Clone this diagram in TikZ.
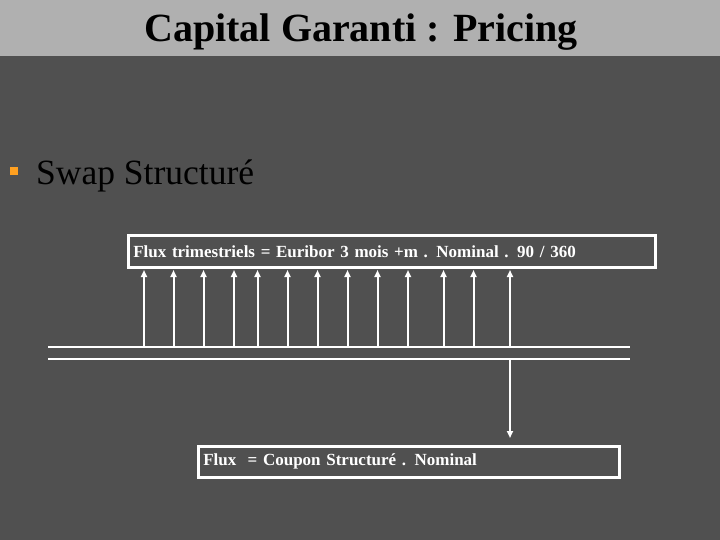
\documentclass[tikz,border=0pt]{standalone}
\usepackage{fontspec}
\setmainfont{Liberation Serif}
\usetikzlibrary{arrows.meta}
\definecolor{bgdark}{RGB}{80,80,80}
\definecolor{band}{RGB}{176,176,176}
\definecolor{bul}{RGB}{255,160,32}
\begin{document}
\begin{tikzpicture}[x=1pt,y=-1pt,
  flow/.style={draw=white,line width=2.6pt,text=white,font=\fontsize{17}{20}\selectfont\bfseries,anchor=north west,inner xsep=5pt,inner ysep=0pt,align=left},
  wline/.style={draw=white,line width=2pt},
  uparr/.style={wline,-{Triangle[length=7pt,width=6pt]}},
]
\useasboundingbox (0,0) rectangle (720,540);
\fill[bgdark] (0,0) rectangle (720,540);
\fill[band] (0,0) rectangle (720,56);
\node[anchor=base,font=\fontsize{40}{44}\selectfont\bfseries,inner sep=0pt] (title) at (361,42) {Capital Garanti : Pricing};
\node[fill=bul,minimum size=8pt,inner sep=0pt] (bullet) at (14,171) {};
\node[anchor=base west,font=\fontsize{35.5}{40}\selectfont,inner sep=0pt] (swap) at (36,185) {Swap Structuré};
\node[flow,minimum width=527pt,minimum height=32pt,text width=517pt] (top) at (127,234) {Flux trimestriels = Euribor 3 mois +m . Nominal . 90 / 360};
\node[flow,minimum width=421pt,minimum height=31pt,text width=411pt] (bot) at (197,445) {Flux \ = Coupon Structuré . Nominal};
\coordinate (la) at (48,347); \coordinate (lb) at (630,347);
\coordinate (ma) at (48,359); \coordinate (mb) at (630,359);
\draw[wline] (la) -- (lb);
\draw[wline] (ma) -- (mb);
\foreach \i/\x in {1/144,2/173.5,3/203.5,4/234,5/257.5,6/287.5,7/317.5,8/347.5,9/377.5,10/408,11/443.5,12/473.5,13/510}{
  \coordinate (s\i) at (\x,347);
  \coordinate (e\i) at (\x,270);
  \draw[uparr] (s\i) -- (e\i);
}
\coordinate (ds) at (510,359);
\coordinate (de) at (510,438);
\draw[uparr] (ds) -- (de);
\end{tikzpicture}
\end{document}
